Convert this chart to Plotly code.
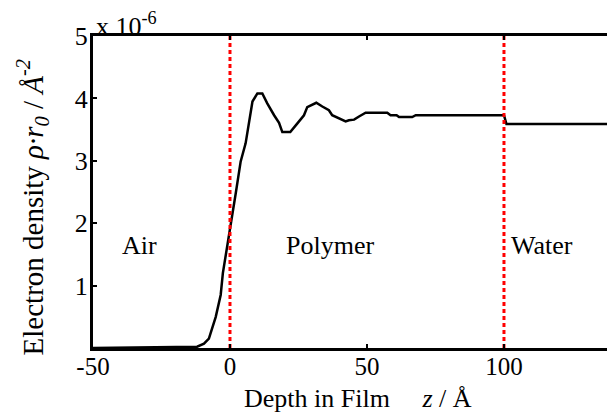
import plotly.graph_objects as go

# Electron density profile (z in Å, density in units of 1e-6 Å^-2)
z = [-50, -12, -9.5, -7.7, -5.2, -3.4, -2.6, -1.6, 0, 2.1, 3.9, 5.7, 8.2, 10.0, 11.8,
     13.6, 16.1, 17.9, 19.1, 22.0, 24.6, 27.0, 28.2, 31.5, 33.7, 36.1, 37.3, 39.8,
     42.2, 43.4, 45.3, 47.1, 49.5, 57.4, 58.6, 60.8, 61.7, 66.5, 67.8, 100, 100.9, 140]
rho = [0, 0.02, 0.07, 0.15, 0.50, 0.85, 1.20, 1.46, 1.94, 2.48, 2.99, 3.28, 3.95, 4.08, 4.08,
       3.92, 3.73, 3.61, 3.46, 3.46, 3.60, 3.73, 3.86, 3.93, 3.87, 3.81, 3.73, 3.68,
       3.63, 3.65, 3.66, 3.71, 3.77, 3.77, 3.73, 3.73, 3.70, 3.70, 3.73, 3.73, 3.59, 3.59]

interfaces = [0, 100]
region_labels = ["Air", "Polymer", "Water"]
region_x = [-33, 36.5, 102]
region_y = 1.65
xticks = [-50, 0, 50, 100]
xticklabels = ["-50", "0", "50", "100"]
yticks = [1, 2, 3, 4, 5]

FONT = "Liberation Serif, Times New Roman, serif"

fig = go.Figure()
fig.add_trace(go.Scatter(x=z, y=rho, mode="lines",
                         line=dict(color="black", width=2.5), showlegend=False))
for xi in interfaces:
    fig.add_trace(go.Scatter(x=[xi, xi], y=[0, 5], mode="lines",
                             line=dict(color="red", width=3, dash="4px,3px"),
                             showlegend=False))

for lab, xl in zip(region_labels, region_x):
    fig.add_annotation(x=xl, y=region_y, text=lab, showarrow=False,
                       font=dict(family=FONT, size=26, color="black"),
                       xanchor="center" if lab != "Water" else "left", yanchor="middle")

fig.add_annotation(xref="paper", yref="paper", x=0.002, y=1.0, text="x 10<sup>-6</sup>",
                   showarrow=False, xanchor="left", yanchor="bottom", yshift=-7,
                   font=dict(family=FONT, size=26, color="black"))

fig.add_annotation(xref="paper", yref="paper", x=-0.075, y=0.452,
                   text="Electron density <i>ρ·r<sub>0</sub></i> / <i>Å<sup>-2</sup></i>",
                   textangle=-90, showarrow=False, xanchor="right", yanchor="middle",
                   font=dict(family=FONT, size=29, color="black"))

fig.add_annotation(xref="paper", yref="paper", x=0.29, y=-0.108,
                   text="Depth in Film &nbsp;&nbsp;&nbsp; <i>z</i> / Å",
                   showarrow=False, xanchor="left", yanchor="top",
                   font=dict(family=FONT, size=26, color="black"))

fig.update_layout(
    width=607, height=413,
    margin=dict(l=93, r=0, t=36, b=65),
    paper_bgcolor="white", plot_bgcolor="white",
    font=dict(family=FONT, size=26, color="black"),
    xaxis=dict(range=[-50, 137.6], tickvals=xticks, ticktext=xticklabels,
               ticks="inside", ticklen=4, ticklabelstandoff=-6,
               tickwidth=1.5, tickcolor="black", showline=True, linecolor="black",
               linewidth=3, mirror="ticks", showgrid=False, zeroline=False,
               tickfont=dict(family=FONT, size=25)),
    yaxis=dict(range=[0, 5], tickvals=yticks, ticks="inside", ticklen=4,
               ticklabelstandoff=-3,
               tickwidth=1.5, tickcolor="black", showline=True, linecolor="black",
               linewidth=3, showgrid=False, zeroline=False,
               tickfont=dict(family=FONT, size=26)),
)

fig.write_html("out.html")
